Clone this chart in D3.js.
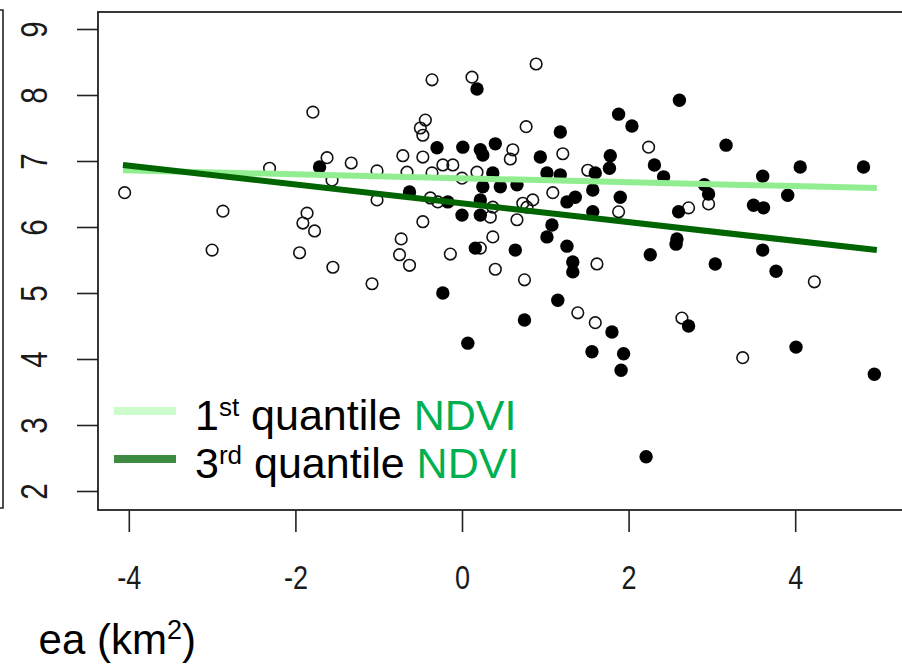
<!DOCTYPE html>
<html>
<meta charset="UTF-8">
<head>
    <script src="https://d3js.org/d3.v7.min.js"></script>
    <style>
        body { margin: 0; background: white; overflow: hidden; }
        text { font-family: "Liberation Sans", Arial, sans-serif; }
    </style>
</head>
<body>
</body>
<script>
    // open circles (1st quantile sites)
    let openX = [-4.05, -2.31, -2.87, -3.00, -1.86, -1.91, -1.77, -1.95, -1.79, -1.62,
                 -1.56, -1.33, -1.02, -1.02, -0.71, -0.66, -0.47, -0.50, -0.44, -0.47,
                 -0.36, -0.23, -0.11, -0.36, -0.38, -0.29, -0.47, -0.73, -0.75, -0.63,
                 -1.08, -1.55, -0.14, 0.00, 0.12, 0.18, 0.37, 0.34, 0.37, 0.22,
                 0.40, 0.61, 0.58, 0.73, 0.85, 0.78, 0.66, 0.75, 0.77, 0.89,
                 1.21, 1.09, 1.51, 1.62, 1.39, 1.60, 2.24, 1.88, 2.72, 2.96,
                 2.64, 3.37, 4.23];
    let openY = [6.52, 6.89, 6.24, 5.65, 6.21, 6.06, 5.94, 5.61, 7.74, 7.05,
                 6.71, 6.97, 6.85, 6.41, 7.08, 6.83, 7.06, 7.50, 7.62, 7.39,
                 8.23, 6.94, 6.94, 6.82, 6.44, 6.38, 6.08, 5.82, 5.58, 5.42,
                 5.14, 5.39, 5.59, 6.74, 8.27, 6.83, 6.30, 6.15, 5.85, 5.68,
                 5.36, 7.17, 7.03, 6.36, 6.41, 6.30, 6.11, 5.20, 7.52, 8.47,
                 7.11, 6.52, 6.86, 5.44, 4.70, 4.55, 7.21, 6.23, 6.29, 6.35,
                 4.62, 4.02, 5.17];

    // filled circles (3rd quantile sites)
    let filledX = [-1.71, -0.63, -0.30, -0.17, -0.23, 0.01, 0.18, 0.22, 0.25, 0.40,
                   0.37, 0.25, 0.46, 0.22, 0.00, 0.22, 0.16, 0.07, 0.66, 0.64,
                   0.75, 0.94, 1.02, 1.18, 1.18, 1.08, 1.02, 1.26, 1.15, 1.33,
                   1.33, 1.36, 1.26, 1.60, 1.57, 1.57, 1.56, 1.77, 1.78, 1.88,
                   2.04, 2.31, 2.42, 1.90, 2.26, 1.80, 1.94, 1.91, 2.21, 2.58,
                   2.57, 2.60, 2.61, 2.72, 2.91, 2.96, 3.04, 3.17, 3.50, 3.62,
                   3.61, 3.61, 3.77, 3.91, 4.06, 4.82, 4.01, 4.95];
    let filledY = [6.91, 6.53, 7.20, 6.38, 5.00, 7.21, 8.09, 7.17, 7.09, 7.26,
                   6.82, 6.61, 6.61, 6.41, 6.18, 6.18, 5.68, 4.24, 6.64, 5.65,
                   4.59, 7.06, 6.82, 6.79, 7.44, 6.03, 5.85, 5.71, 4.89, 5.47,
                   5.32, 6.45, 6.38, 6.82, 6.56, 6.23, 4.11, 6.89, 7.08, 7.71,
                   7.53, 6.94, 6.76, 6.45, 5.58, 4.41, 4.08, 3.83, 2.52, 5.82,
                   5.74, 6.23, 7.92, 4.50, 6.64, 6.50, 5.44, 7.24, 6.33, 6.29,
                   6.77, 5.65, 5.33, 6.48, 6.91, 6.91, 4.18, 3.77];

    // fitted lines, end points [x, y]
    let q1Line = [[-4.07, 6.86], [4.98, 6.59]];
    let q3Line = [[-4.07, 6.94], [4.98, 5.65]];

    let xTicks = [-4, -2, 0, 2, 4];
    let yTicks = [2, 3, 4, 5, 6, 7, 8, 9];

    let legendLabels = [["1", "st"], ["3", "rd"]];

    let svg = d3.select("body").append("svg")
        .attr("width", 902)
        .attr("height", 664);

    let x = d3.scaleLinear().domain([-4, 4]).range([128.8, 795.2]);
    let y = d3.scaleLinear().domain([2, 9]).range([491, 29]);

    // border of the neighbouring panel on the left
    svg.append("path")
        .attr("d", "M0,10H3V508H0")
        .attr("fill", "none")
        .attr("stroke", "#222")
        .attr("stroke-width", 1.6);

    // plot box
    svg.append("rect")
        .attr("x", 98).attr("y", 12)
        .attr("width", 830).attr("height", 498)
        .attr("fill", "none")
        .attr("stroke", "#222")
        .attr("stroke-width", 1.8);

    // x axis (plain hyphen minus, like R)
    let xAxis = svg.append("g")
        .attr("transform", "translate(0,510)")
        .call(d3.axisBottom(x).tickValues(xTicks).tickSize(22).tickPadding(34)
            .tickFormat(d => String(d)));
    xAxis.select(".domain").remove();
    xAxis.selectAll("line").attr("stroke", "#222").attr("stroke-width", 1.6);
    xAxis.selectAll("text")
        .attr("fill", "#1a1a1a")
        .attr("transform", "scale(0.82,1)")
        .style("font-size", "33px");

    // y axis, labels turned like in R
    let yAxis = svg.append("g")
        .attr("transform", "translate(98,0)")
        .call(d3.axisLeft(y).tickValues(yTicks).tickSize(21)
            .tickFormat(d => String(d)));
    yAxis.select(".domain").remove();
    yAxis.selectAll("line").attr("stroke", "#222").attr("stroke-width", 1.6);
    yAxis.selectAll("text")
        .attr("x", null)
        .attr("dy", null)
        .attr("text-anchor", "middle")
        .attr("transform", "translate(-51,0) rotate(-90) scale(0.8,1)")
        .attr("fill", "#1a1a1a")
        .style("font-size", "37px");

    // points
    let openPts = openX.map((v, i) => [v, openY[i]]);
    let filledPts = filledX.map((v, i) => [v, filledY[i]]);

    svg.append("g")
        .selectAll("circle")
        .data(openPts)
        .join("circle")
        .attr("cx", d => x(d[0]))
        .attr("cy", d => y(d[1]))
        .attr("r", 5.8)
        .attr("fill", "none")
        .attr("stroke", "#111")
        .attr("stroke-width", 1.6);

    svg.append("g")
        .selectAll("circle")
        .data(filledPts)
        .join("circle")
        .attr("cx", d => x(d[0]))
        .attr("cy", d => y(d[1]))
        .attr("r", 6.7)
        .attr("fill", "#000");

    // fitted lines
    let line = d3.line().x(d => x(d[0])).y(d => y(d[1]));
    svg.append("path")
        .attr("d", line(q1Line))
        .attr("fill", "none")
        .attr("stroke", "#90ee90")
        .attr("stroke-width", 6);
    svg.append("path")
        .attr("d", line(q3Line))
        .attr("fill", "none")
        .attr("stroke", "#006400")
        .attr("stroke-width", 6);

    // legend
    let legendColors = ["#ccfccc", "#3d8b40"];
    let legend = svg.append("g");
    legendLabels.forEach((lab, i) => {
        let ly = 411 + i * 48;
        legend.append("line")
            .attr("x1", 114).attr("x2", 176)
            .attr("y1", ly).attr("y2", ly)
            .attr("stroke", legendColors[i])
            .attr("stroke-width", 8);
        let t = legend.append("text")
            .attr("x", 195)
            .attr("y", ly + 19)
            .style("font-size", "43px")
            .attr("fill", "#000");
        t.append("tspan").text(lab[0]);
        t.append("tspan").text(lab[1])
            .attr("dy", -14)
            .style("font-size", "26px");
        t.append("tspan").text(" quantile ")
            .attr("dy", 14);
        t.append("tspan").text("NDVI")
            .attr("fill", "#00b050");
    });

    // x axis title, cut by the picture edge
    let title = svg.append("text")
        .attr("x", 196)
        .attr("y", 654)
        .attr("text-anchor", "end")
        .style("font-size", "42px")
        .attr("fill", "#000");
    title.append("tspan").text("ea (km");
    title.append("tspan").text("2").attr("dy", -15).style("font-size", "27px");
    title.append("tspan").text(")").attr("dy", 15);
</script>
</html>
